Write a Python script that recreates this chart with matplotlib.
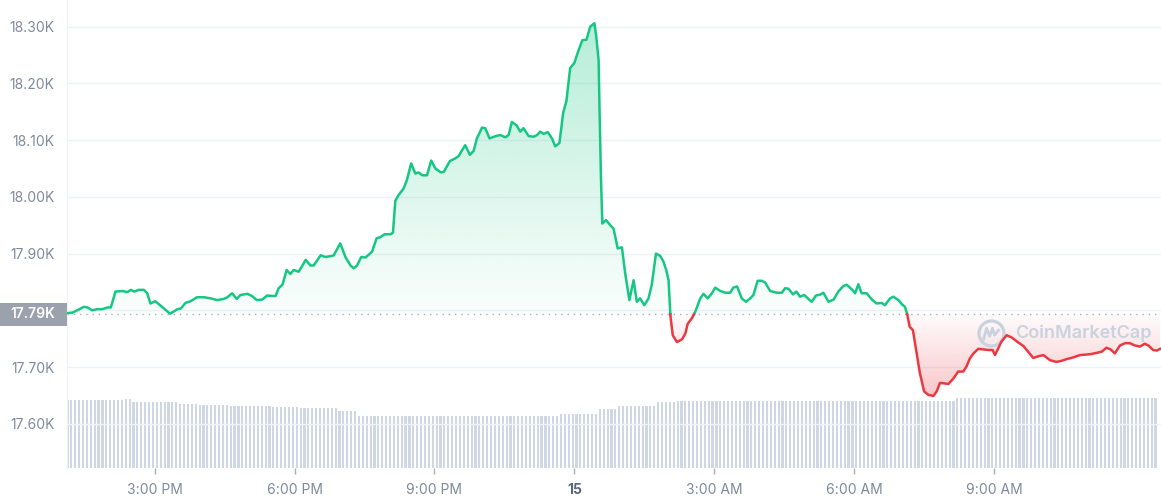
import numpy as np
import matplotlib
matplotlib.use("Agg")
import matplotlib.pyplot as plt
from matplotlib.path import Path
from matplotlib.patches import Rectangle
import matplotlib.transforms as mtransforms

plt.rcParams['font.family'] = ['Inter', 'DejaVu Sans']

# hours since midnight of the first day (24 = "15")
times = [13.13, 13.24, 13.34, 13.48, 13.56, 13.66, 13.77, 13.88, 13.99, 14.06,
         14.16, 14.31, 14.41, 14.49, 14.56, 14.66, 14.77, 14.84, 14.91, 15.01,
         15.13, 15.33, 15.49, 15.56, 15.66, 15.77, 15.91, 16.06, 16.20, 16.34,
         16.48, 16.56, 16.66, 16.76, 16.84, 16.99, 17.09, 17.19,
         17.31, 17.41, 17.59, 17.66, 17.74, 17.83, 17.91, 17.98, 18.09, 18.24,
         18.34, 18.41, 18.56, 18.66, 18.81, 18.84, 18.98, 19.09, 19.20, 19.27,
         19.34, 19.43, 19.52, 19.66, 19.76, 19.84, 19.93, 20.06, 20.11, 20.16,
         20.23, 20.34, 20.41, 20.50, 20.59, 20.66, 20.74, 20.84, 20.93, 21.02,
         21.14, 21.20, 21.33,
         21.45, 21.52, 21.59, 21.66, 21.76, 21.84, 21.91, 22.02, 22.09, 22.18,
         22.31, 22.41, 22.52, 22.59, 22.66, 22.76, 22.84, 22.91, 23.02, 23.13,
         23.20, 23.27, 23.34, 23.43, 23.52, 23.59, 23.68, 23.76, 23.83, 23.91,
         24.00, 24.08, 24.17, 24.26, 24.34, 24.43, 24.47, 24.52, 24.54, 24.57,
         24.60, 24.68, 24.77, 24.84, 24.93, 25.02, 25.09, 25.18, 25.27, 25.34,
         25.41,
         25.50, 25.59, 25.66, 25.75, 25.84, 25.91, 25.97, 26.02, 26.06, 26.11,
         26.20, 26.31, 26.38, 26.43, 26.52, 26.59, 26.70, 26.77, 26.86, 26.95,
         27.02, 27.13, 27.24, 27.34, 27.41, 27.49, 27.59, 27.68, 27.77, 27.84,
         27.93, 28.02, 28.09, 28.20, 28.34, 28.45, 28.52, 28.59, 28.69, 28.76,
         28.84, 28.93, 29.02, 29.09, 29.18, 29.28,
         29.34, 29.45, 29.56, 29.66, 29.77, 29.84, 29.95, 30.02, 30.09, 30.16,
         30.27, 30.38, 30.48, 30.59, 30.66, 30.77, 30.84, 30.95, 31.02, 31.09,
         31.14, 31.19, 31.26, 31.34, 31.41, 31.50, 31.59, 31.70, 31.77, 31.84,
         31.95, 32.02, 32.13, 32.23, 32.34, 32.41, 32.48, 32.56, 32.66, 32.77,
         32.88, 32.97, 33.02, 33.09, 33.16, 33.27, 33.38, 33.49, 33.63, 33.73,
         33.84, 33.95, 34.06, 34.20, 34.34, 34.45, 34.56, 34.70, 34.84, 34.98,
         35.09, 35.20, 35.31, 35.41, 35.50, 35.59, 35.70, 35.81, 35.91, 36.02,
         36.13, 36.23, 36.31, 36.41, 36.49, 36.56]

prices = [17795, 17796, 17800, 17806, 17805, 17800, 17802, 17802, 17805, 17805,
          17833, 17834, 17832, 17836, 17833, 17836, 17836, 17830, 17812, 17816,
          17808, 17794, 17802, 17803, 17813, 17816, 17823, 17823, 17821, 17818,
          17820, 17823, 17830, 17820, 17827, 17829, 17825, 17818,
          17819, 17826, 17825, 17839, 17845, 17871, 17864, 17871, 17868, 17889,
          17879, 17879, 17897, 17894, 17896, 17897, 17918, 17894, 17879, 17874,
          17879, 17894, 17893, 17903, 17927, 17929, 17934, 17934, 17937, 17993,
          18003, 18015, 18030, 18059, 18041, 18043, 18038, 18038, 18064, 18050,
          18043, 18044, 18063,
          18068, 18072, 18082, 18091, 18074, 18081, 18103, 18122, 18121, 18103,
          18107, 18109, 18105, 18109, 18132, 18126, 18115, 18121, 18107, 18106,
          18109, 18115, 18111, 18114, 18103, 18089, 18095, 18148, 18169, 18227,
          18236, 18256, 18276, 18277, 18300, 18306, 18282, 18241, 18153, 18035,
          17953, 17959, 17950, 17944, 17909, 17911, 17865, 17818, 17853, 17815,
          17821,
          17809, 17821, 17845, 17900, 17896, 17886, 17871, 17853, 17790, 17756,
          17744, 17749, 17759, 17776, 17786, 17797, 17821, 17829, 17821, 17830,
          17840, 17834, 17831, 17831, 17840, 17842, 17821, 17815, 17821, 17827,
          17852, 17852, 17849, 17834, 17831, 17831, 17839, 17838, 17828, 17833,
          17824, 17827, 17820, 17815, 17826, 17828,
          17831, 17815, 17819, 17833, 17843, 17845, 17837, 17830, 17846, 17830,
          17830, 17819, 17812, 17813, 17809, 17821, 17824, 17818, 17811, 17806,
          17792, 17771, 17765, 17724, 17689, 17657, 17651, 17649, 17657, 17672,
          17671, 17670, 17680, 17692, 17692, 17701, 17715, 17724, 17732, 17731,
          17730, 17730, 17721, 17733, 17745, 17756, 17752, 17745, 17737, 17727,
          17716, 17719, 17721, 17712, 17709, 17711, 17714, 17717, 17721, 17722,
          17723, 17725, 17727, 17734, 17731, 17724, 17738, 17742, 17742, 17738,
          17736, 17741, 17738, 17730, 17729, 17732]

open_price = 17793

# 5-minute volume bars, run-length: level (B USD) and number of bars
vol_levels = [34.0, 34.3, 33.2, 31.8, 31.5, 31.0, 30.7, 30.2, 28.5, 26.2,
              27.0, 29.5, 31.2, 32.8, 33.5, 33.6, 35.2, 34.8]
vol_counts = [15, 2, 12, 5, 8, 11, 7, 10, 5, 52, 10, 5, 10, 5, 44, 28, 4, 48]
vol_start = 13.13

ytick_vals = [17600, 17700, 17800, 17900, 18000, 18100, 18200, 18300]
ytick_labels = ['17.60K', '17.70K', '', '17.90K', '18.00K', '18.10K', '18.20K', '18.30K']
xtick_vals = [15, 18, 21, 24, 27, 30, 33]
xtick_labels = ['3:00 PM', '6:00 PM', '9:00 PM', '15', '3:00 AM', '6:00 AM', '9:00 AM']

green = '#16c784'
red = '#ea3943'
grey_txt = '#808a9d'

t = np.array(times, dtype=float)
p = np.array(prices, dtype=float)

# add the points where the line crosses the open price, so colours switch there
tt, pp = [t[0]], [p[0]]
for i in range(1, len(t)):
    a = p[i - 1] - open_price
    b = p[i] - open_price
    if a * b < 0:
        tt.append(t[i - 1] + (t[i] - t[i - 1]) * a / (a - b))
        pp.append(open_price)
    tt.append(t[i])
    pp.append(p[i])
tt = np.array(tt)
pp = np.array(pp)

fig = plt.figure(figsize=(11.61, 5.0), dpi=100)
ax = fig.add_axes([67 / 1161, 32 / 500, 1094 / 1161, 468 / 500])
ax2 = ax.twinx()
ax.set_zorder(ax2.get_zorder() + 1)
ax.patch.set_visible(False)

# volume
vols = np.repeat(vol_levels, vol_counts)
vt = vol_start + np.arange(len(vols)) / 12
ax2.bar(vt, vols, width=0.55 / 12, color='#cfd6e4', linewidth=0)
ax2.set_ylim(0, 234)
ax2.axis('off')

xlo, xhi = 13.12, 36.58
ylo, yhi = 17522, 18347


def gradient_fill(mask, color, far, a_far):
    coll = ax.fill_between(tt, pp, open_price, where=mask, interpolate=True,
                           facecolor='none', edgecolor='none')
    paths = coll.get_paths()
    if not paths:
        return
    rgb = matplotlib.colors.to_rgb(color)
    lo, hi = min(open_price, far), max(open_price, far)
    img = np.zeros((256, 1, 4))
    img[..., :3] = rgb
    a = np.linspace(0, 1, 256)
    if far > open_price:
        img[:, 0, 3] = 0.02 + a * (a_far - 0.02)
    else:
        img[:, 0, 3] = a_far - a * (a_far - 0.02)
    im = ax.imshow(img, extent=[xlo, xhi, lo, hi], origin='lower',
                   aspect='auto', interpolation='bilinear', zorder=1)
    im.set_clip_path(Path.make_compound_path(*paths), ax.transData)


gradient_fill(pp >= open_price, green, 18330, 0.33)
gradient_fill(pp <= open_price, red, 17640, 0.30)

ax.plot(tt, np.where(pp >= open_price, pp, np.nan), color=green, lw=1.8,
        solid_joinstyle='round', zorder=4)
ax.plot(tt, np.where(pp <= open_price, pp, np.nan), color=red, lw=1.8,
        solid_joinstyle='round', zorder=4)

ax.axhline(open_price, color='#a6aebd', lw=1.0, ls=(0, (1, 3.5)), zorder=2)

# watermark
wm = '#c9d2df'
ax.text(0.8665, 0.288, 'CoinMarketCap', transform=ax.transAxes, fontsize=13,
        fontweight='semibold', color=wm, ha='left', va='center', zorder=3)
ax.plot([0.8442], [0.288], transform=ax.transAxes, marker='o', ms=18,
        mfc='none', mec=wm, mew=2.3, zorder=3)
cx, cy = 0.8442, 0.288
wx = [-7, -4, -1, 2, 4, 8]
wy = [-6, 5, -3, 5, -2, 3]
ax.plot([cx + v / 1094 for v in wx], [cy + v / 468 for v in wy],
        transform=ax.transAxes, color=wm, lw=2.0, zorder=3)

ax.set_xlim(xlo, xhi)
ax.set_ylim(ylo, yhi)
ax.set_yticks(ytick_vals)
ax.set_yticklabels(ytick_labels)
ax.set_xticks(xtick_vals)
ax.set_xticklabels(xtick_labels)
ax.grid(axis='y', color='#eff2f5', lw=1.0)
ax.set_axisbelow(True)
ax.tick_params(axis='y', length=0, pad=9, labelsize=10, labelcolor=grey_txt)
ax.tick_params(axis='x', length=4, width=1, color='#a6aebd', pad=7,
               labelsize=10, labelcolor=grey_txt)
lab = ax.get_xticklabels()[3]
lab.set_fontweight('bold')
lab.set_color('#58667e')
for s in ['top', 'right', 'bottom']:
    ax.spines[s].set_visible(False)
ax.spines['left'].set_color('#eff2f5')

# open price label on the left
blend = mtransforms.blended_transform_factory(fig.transFigure, ax.transData)
box = Rectangle((0, open_price - 20), 67 / 1161, 40, transform=blend,
                facecolor='#9ba1ad', edgecolor='none', clip_on=False, zorder=5)
ax.add_patch(box)
ax.text(33 / 1161, open_price, '17.79K', transform=blend, ha='center',
        va='center', color='white', fontsize=10, fontweight='semibold',
        clip_on=False, zorder=6)

fig.savefig('out.png', dpi=100)
